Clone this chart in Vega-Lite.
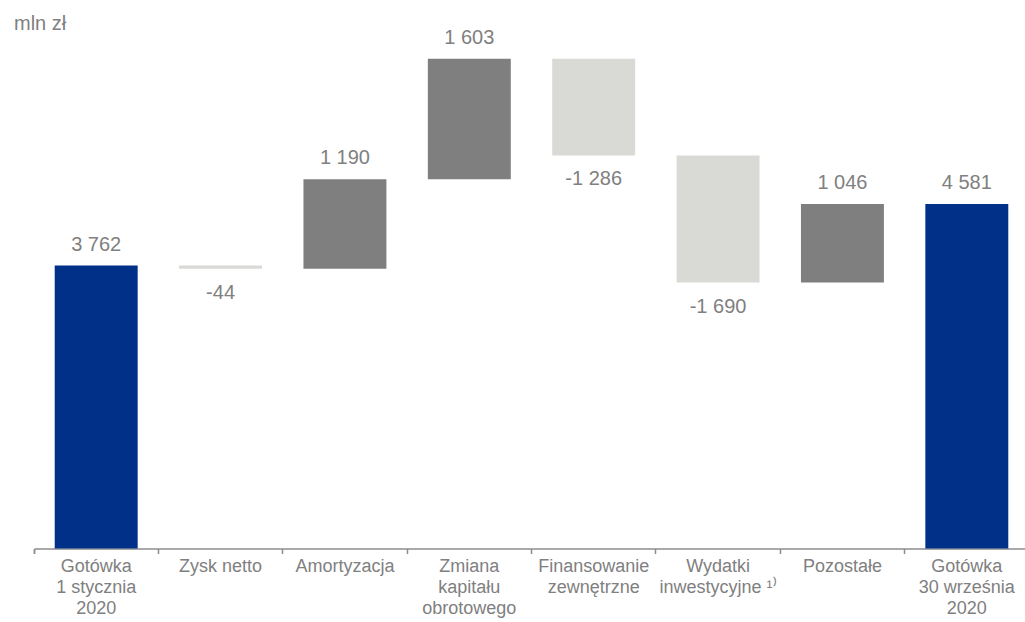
{
  "$schema": "https://vega.github.io/schema/vega-lite/v6.json",
  "width": 991,
  "height": 511.5,
  "autosize": {"type": "none"},
  "padding": {"left": 34, "top": 37, "right": 0, "bottom": 73.5},
  "background": "white",
  "config": {"view": {"stroke": null}, "font": "Liberation Sans"},
  "title": {
    "text": "mln zł",
    "anchor": "start",
    "frame": "group",
    "fontSize": 20,
    "font": "Liberation Sans",
    "fontWeight": "normal",
    "color": "#808080",
    "baseline": "bottom",
    "dx": -20,
    "offset": -26
  },
  "data": {
    "values": [
      {"cat": "Gotówka|1 stycznia|2020", "amount": 3762, "lo": 0, "hi": 3762, "kind": "total", "label": "3 762"},
      {"cat": "Zysk netto", "amount": -44, "lo": 3718, "hi": 3762, "kind": "decrease", "label": "-44"},
      {"cat": "Amortyzacja", "amount": 1190, "lo": 3718, "hi": 4908, "kind": "increase", "label": "1 190"},
      {"cat": "Zmiana|kapitału|obrotowego", "amount": 1603, "lo": 4908, "hi": 6511, "kind": "increase", "label": "1 603"},
      {"cat": "Finansowanie|zewnętrzne", "amount": -1286, "lo": 5225, "hi": 6511, "kind": "decrease", "label": "-1 286"},
      {"cat": "Wydatki|inwestycyjne ¹⁾", "amount": -1690, "lo": 3535, "hi": 5225, "kind": "decrease", "label": "-1 690"},
      {"cat": "Pozostałe", "amount": 1046, "lo": 3535, "hi": 4581, "kind": "increase", "label": "1 046"},
      {"cat": "Gotówka|30 września|2020", "amount": 4581, "lo": 0, "hi": 4581, "kind": "total", "label": "4 581"}
    ]
  },
  "encoding": {
    "x": {
      "field": "cat",
      "type": "nominal",
      "sort": null,
      "scale": {"paddingInner": 0, "paddingOuter": 0, "range": [0, 995]},
      "axis": {
        "title": null,
        "labelAngle": 0,
        "labelFontSize": 18,
        "labelFont": "Liberation Sans",
        "labelColor": "#808080",
        "labelLineHeight": 21,
        "labelExpr": "split(datum.label, '|')",
        "labelBaseline": "top",
        "labelAlign": "center",
        "bandPosition": 0,
        "tickExtra": true,
        "tickSize": 5,
        "tickColor": "#8c8c8c",
        "tickWidth": 1.5,
        "domainColor": "#8c8c8c",
        "domainWidth": 1.5,
        "labelPadding": 4,
        "grid": false
      }
    }
  },
  "layer": [
    {
      "mark": {"type": "bar", "width": {"band": 0.667}},
      "encoding": {
        "y": {"field": "lo", "type": "quantitative", "scale": {"domain": [0, 6800], "nice": false}, "axis": null},
        "y2": {"field": "hi"},
        "color": {
          "field": "kind",
          "type": "nominal",
          "scale": {"domain": ["total", "increase", "decrease"], "range": ["#003087", "#7f7f7f", "#d9d9d6"]},
          "legend": null
        }
      }
    },
    {
      "transform": [{"filter": "datum.amount >= 0"}],
      "mark": {"type": "text", "baseline": "alphabetic", "dy": -15, "fontSize": 20, "font": "Liberation Sans", "color": "#808080"},
      "encoding": {
        "y": {"field": "hi", "type": "quantitative"},
        "text": {"field": "label"}
      }
    },
    {
      "transform": [{"filter": "datum.amount < 0"}],
      "mark": {"type": "text", "baseline": "top", "dy": 14, "fontSize": 20, "font": "Liberation Sans", "color": "#808080"},
      "encoding": {
        "y": {"field": "lo", "type": "quantitative"},
        "text": {"field": "label"}
      }
    }
  ]
}
